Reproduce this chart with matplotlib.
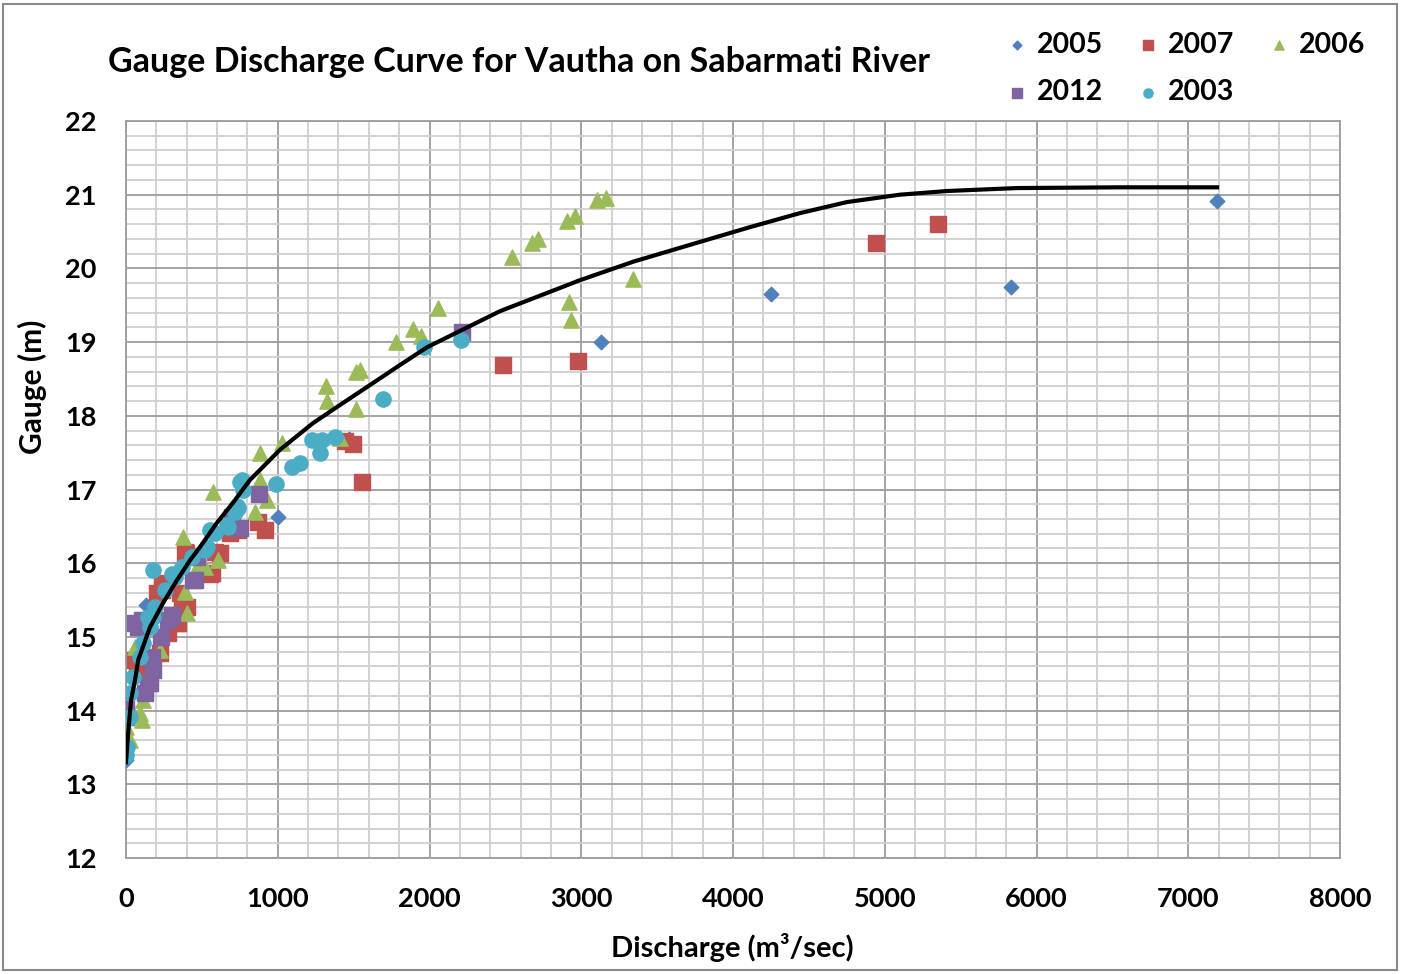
import matplotlib
matplotlib.use("Agg")
import matplotlib.pyplot as plt
from matplotlib.patches import Rectangle
from matplotlib.ticker import MultipleLocator

plt.rcParams['font.family'] = ['Lato', 'DejaVu Sans']
plt.rcParams['font.weight'] = 'bold'

# discharge (m3/sec) and gauge (m)
q_2005 = [0, 132, 1000, 1470, 3130, 4250, 5832, 7190]
h_2005 = [13.33, 15.43, 16.63, 17.68, 19.0, 19.65, 19.75, 20.91]

q_2007 = [5351, 4942, 2484, 2979, 1555, 1496, 1443, 916, 870, 738, 685, 620, 587, 554,
          567, 389, 402, 369, 356, 343, 336, 237, 237, 204, 224, 72, 59, 280, 300, 395, 110]
h_2007 = [20.60, 20.35, 18.69, 18.74, 17.10, 17.62, 17.66, 16.45, 16.56, 16.45, 16.41, 16.14, 16.15, 15.86,
          15.87, 16.15, 15.41, 15.41, 15.60, 15.19, 15.19, 15.73, 15.64, 15.60, 14.78, 14.55, 14.69, 15.05, 15.20, 16.14, 14.62]

q_2006 = [3163, 3104, 2959, 2906, 2715, 2676, 2544, 3341, 2919, 2932, 2056, 1891, 1944, 1779,
          1542, 1516, 1516, 1318, 1325, 1028, 1410, 883, 883, 929, 850, 573, 376, 606, 520,
          389, 402, 59, 224, 112, 105, 92, 26, 0, 0, 480, 0]
h_2006 = [20.96, 20.93, 20.71, 20.64, 20.40, 20.35, 20.15, 19.86, 19.54, 19.30, 19.46, 19.18, 19.08, 19.00,
          18.62, 18.59, 18.09, 18.40, 18.20, 17.63, 17.70, 17.49, 17.13, 16.86, 16.70, 16.97, 16.36, 16.04, 15.95,
          15.61, 15.32, 14.86, 14.82, 14.14, 13.87, 13.97, 13.60, 13.60, 13.78, 16.00, 13.50]

q_2012 = [2214, 876, 751, 698, 468, 442, 455, 277, 79, 59, 105, 171, 178, 145, 125, 158,
          0, 0, 0, 230, 300]
h_2012 = [19.14, 16.94, 16.48, 16.63, 16.08, 15.77, 15.77, 15.23, 15.13, 15.19, 15.23, 14.73, 14.55, 14.37, 14.24, 14.37,
          14.05, 13.91, 13.97, 15.00, 15.30]

q_2003 = [2208, 1964, 1694, 1377, 1292, 1226, 1278, 1147, 1094, 988, 764, 771, 751, 738, 731,
          718, 672, 666, 587, 554, 534, 520, 435, 369, 323, 257, 191, 178, 158, 145, 178, 112,
          92, 46, 26, 26, 7, 0, 300]
h_2003 = [19.03, 18.93, 18.23, 17.71, 17.67, 17.67, 17.49, 17.36, 17.31, 17.08, 17.13, 16.99, 17.10, 16.75, 16.77,
          16.70, 16.49, 16.52, 16.41, 16.45, 16.22, 16.18, 16.08, 15.95, 15.81, 15.64, 15.41, 15.91, 15.13, 15.27, 15.27, 14.92,
          14.73, 14.46, 14.24, 13.91, 13.51, 13.40, 15.85]

# rating curve drawn on the chart
q_curve = [0, 12, 33, 59, 81, 158, 244, 336, 422, 488, 600, 705, 817, 1015, 1232, 1456, 1588, 1806,
           1984, 2465, 2992, 3341, 3783, 4112, 4441, 4751, 5100, 5410, 5871, 6530, 7190]
h_curve = [13.30, 13.64, 14.14, 14.41, 14.69, 15.13, 15.46, 15.77, 16.04, 16.22, 16.55, 16.82, 17.13, 17.54, 17.90, 18.21, 18.39, 18.69,
           18.93, 19.42, 19.84, 20.09, 20.36, 20.56, 20.75, 20.90, 21.00, 21.05, 21.09, 21.10, 21.10]

fig = plt.figure(figsize=(14.04, 9.74), dpi=100)
ax = fig.add_axes([126/1404, 116/974, 1214/1404, 737/974])

ax.scatter(q_2005, h_2005, marker='D', s=55, color='#4F81BD', label='2005', zorder=3)
ax.scatter(q_2007, h_2007, marker='s', s=120, color='#C0504D', label='2007', zorder=3)
ax.scatter(q_2006, h_2006, marker='^', s=120, color='#9BBB59', label='2006', zorder=3)
ax.scatter(q_2012, h_2012, marker='s', s=120, color='#8064A2', label='2012', zorder=3)
ax.scatter(q_2003, h_2003, marker='o', s=120, color='#4BACC6', label='2003', zorder=3)
ax.plot(q_curve, h_curve, color='black', lw=3, zorder=4)

ax.set_xlim(0, 8000)
ax.set_ylim(12, 22)
ax.xaxis.set_major_locator(MultipleLocator(1000))
ax.xaxis.set_minor_locator(MultipleLocator(200))
ax.yaxis.set_major_locator(MultipleLocator(1))
ax.yaxis.set_minor_locator(MultipleLocator(0.2))
ax.grid(which='major', color='#9C9C9C', lw=1.3)
ax.grid(which='minor', color='#CFCFCF', lw=1.3)
ax.set_axisbelow(True)
for s in ax.spines.values():
    s.set_color('#9C9C9C')
    s.set_linewidth(1.3)
ax.tick_params(which='both', length=0)
ax.tick_params(axis='x', pad=21, labelsize=19.5)
ax.tick_params(axis='y', pad=21, labelsize=19.5)

fig.text(108/1404, 1 - 62/974, 'Gauge Discharge Curve for Vautha on Sabarmati River',
         fontsize=24.5, fontweight='bold', ha='left', va='center')
fig.text(32/1404, 1 - 387/974, 'Gauge (m)', fontsize=21.5, fontweight='bold',
         rotation=90, ha='center', va='center')
fig.text(732/1404, 1 - 947/974, 'Discharge (m³/sec)', fontsize=21, fontweight='bold',
         ha='center', va='center')

h, l = ax.get_legend_handles_labels()
order = [0, 3, 1, 4, 2]
fig.legend([h[i] for i in order], [l[i] for i in order], ncol=3, frameon=False,
           loc='upper left', bbox_to_anchor=(977/1404, 1 - 6/974), fontsize=20.5,
           markerscale=0.6, handletextpad=0.2, columnspacing=1.08, labelspacing=0.75,
           handlelength=1.0)

fig.patches.append(Rectangle((3/1404, 4/974), 1394/1404, 966/974, fill=False,
                             edgecolor='#8A8A8A', lw=1.5, transform=fig.transFigure))

plt.savefig('out.png', dpi=100)
